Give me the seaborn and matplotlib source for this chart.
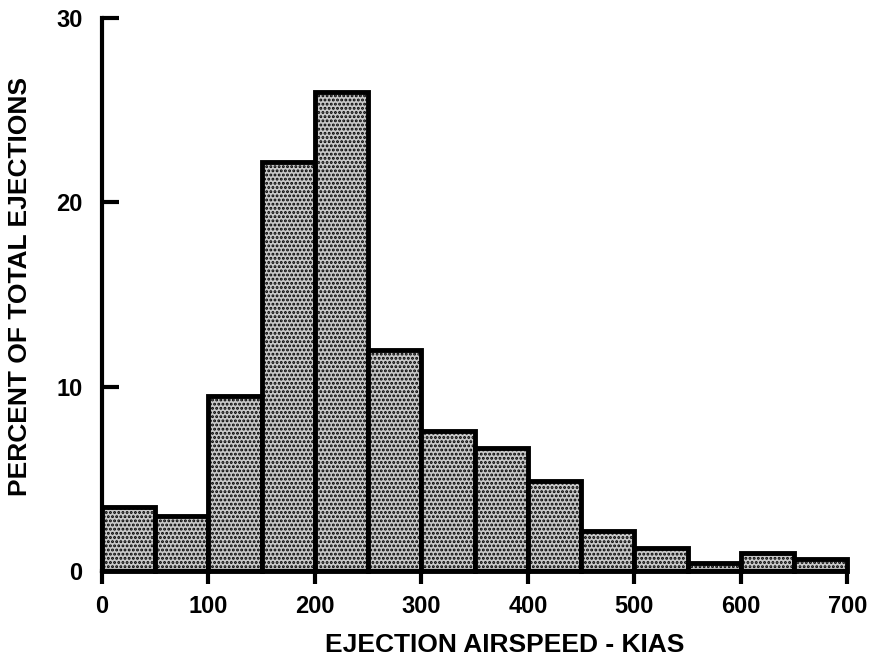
import numpy as np
import matplotlib
matplotlib.use("Agg")
import matplotlib.pyplot as plt
import seaborn as sns

# Ejection airspeed distribution (percent of total), 50-knot bins
bin_edges = [0, 50, 100, 150, 200, 250, 300, 350, 400, 450, 500, 550, 600, 650, 700]
percent = [3.5, 3.0, 9.5, 22.2, 26.0, 12.0, 7.6, 6.7, 4.9, 2.2, 1.25, 0.45, 1.0, 0.65]
x_ticks = [0, 100, 200, 300, 400, 500, 600, 700]
y_ticks = [0, 10, 20, 30]

sns.set_theme(style="white")
plt.rcParams['font.family'] = ['Liberation Sans', 'DejaVu Sans']
plt.rcParams['text.color'] = 'black'
plt.rcParams['axes.labelcolor'] = 'black'
plt.rcParams['xtick.color'] = 'black'
plt.rcParams['ytick.color'] = 'black'
plt.rcParams['hatch.linewidth'] = 1.4
plt.rcParams['hatch.color'] = '#333333'

centers = [(a + b) / 2 for a, b in zip(bin_edges[:-1], bin_edges[1:])]

fig = plt.figure(figsize=(8.7, 6.65), dpi=100)
ax = fig.add_axes([0.117, 0.141, 0.857, 0.832])

sns.histplot(x=centers, weights=percent, bins=bin_edges, ax=ax,
             color='#c8c8c8', alpha=1.0, edgecolor='black', linewidth=3.5)
for p in ax.patches:
    p.set_hatch('....')
    p.set_joinstyle('miter')
    p.set_clip_on(False)

ax.set_xlim(0, 700)
ax.set_ylim(0, 30)
ax.set_xticks(x_ticks)
ax.set_yticks(y_ticks)
ax.set_xticklabels([str(t) for t in x_ticks], fontsize=17, fontweight='bold')
ax.set_yticklabels([str(t) for t in y_ticks], fontsize=17, fontweight='bold')
ax.tick_params(axis='x', bottom=True, direction='out', length=9, width=3, pad=8)
ax.tick_params(axis='y', left=True, direction='in', length=12, width=3, pad=14)
ax.set_xlabel('EJECTION AIRSPEED - KIAS', fontsize=19, fontweight='bold')
ax.set_ylabel('PERCENT OF TOTAL EJECTIONS', fontsize=19, fontweight='bold')
ax.xaxis.set_label_coords(0.54, -0.112)
ax.yaxis.set_label_coords(-0.093, 0.515)

sns.despine(ax=ax)
for side in ['left', 'bottom']:
    ax.spines[side].set_linewidth(3)
    ax.spines[side].set_color('black')

fig.savefig('out.png', dpi=100)
